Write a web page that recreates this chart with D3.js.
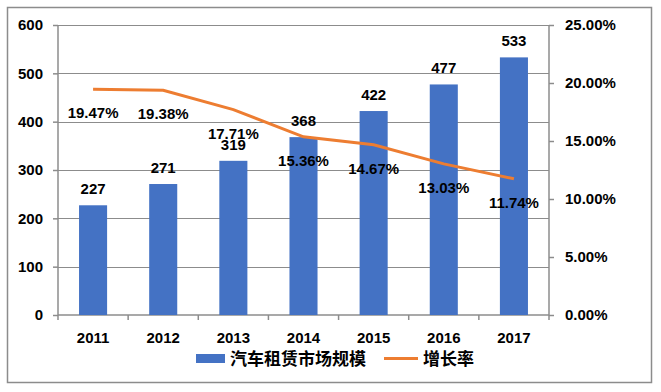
<!DOCTYPE html>
<html>
<head>
<meta charset="utf-8">
<script src="https://cdn.jsdelivr.net/npm/d3@7"></script>
<style>
  body { margin: 0; background: #fff; }
  svg text { font-family: "Liberation Sans", "Noto Sans CJK SC", sans-serif; font-weight: bold; fill: #000; }
</style>
</head>
<body>
<div id="chart"></div>
<script>
// chart data
var years = ["2011", "2012", "2013", "2014", "2015", "2016", "2017"];
var marketSize = [227, 271, 319, 368, 422, 477, 533];
var growthRate = [19.47, 19.38, 17.71, 15.36, 14.67, 13.03, 11.74];
var leftTicks = [0, 100, 200, 300, 400, 500, 600];
var rightTicks = [0, 5, 10, 15, 20, 25];
var seriesNames = ["汽车租赁市场规模", "增长率"];

var W = 661, H = 392;
var margin = { top: 25, right: 112, bottom: 77, left: 58 };
var width = W - margin.left - margin.right,
    height = H - margin.top - margin.bottom;

var svg = d3.select("#chart").append("svg")
    .attr("width", W)
    .attr("height", H);

// outer frame
svg.append("rect")
    .attr("x", 7.5).attr("y", 7.5)
    .attr("width", 644).attr("height", 375)
    .style("fill", "#fff")
    .style("stroke", "#8c8c8c")
    .style("stroke-width", 1.5);

var g = svg.append("g")
    .attr("transform", "translate(" + margin.left + "," + margin.top + ")");

var x = d3.scaleBand().domain(years).range([0, width]).paddingInner(0).paddingOuter(0);
var y = d3.scaleLinear().domain([0, 600]).range([height, 0]);
var y2 = d3.scaleLinear().domain([0, 25]).range([height, 0]);

var axisColor = "#8c8c8c";

// gridlines
g.selectAll(".grid")
    .data(leftTicks.slice(1))
    .enter().append("line")
    .attr("class", "grid")
    .attr("x1", 0).attr("x2", width)
    .attr("y1", function(d) { return Math.round(y(d)) + 0.5; })
    .attr("y2", function(d) { return Math.round(y(d)) + 0.5; })
    .style("stroke", axisColor)
    .style("stroke-width", 1);

// left axis
var leftAxis = g.append("g")
    .call(d3.axisLeft(y).tickValues(leftTicks).tickSize(5).tickPadding(10));

// right axis
var rightAxis = g.append("g")
    .attr("transform", "translate(" + width + ",0)")
    .call(d3.axisRight(y2).tickValues(rightTicks).tickSize(5).tickPadding(11)
        .tickFormat(function(d) { return d.toFixed(2) + "%"; }));

// bottom axis: ticks between categories
var bottomAxis = g.append("g")
    .attr("transform", "translate(0," + height + ")")
    .call(d3.axisBottom(x).tickSize(0).tickPadding(17));

bottomAxis.selectAll(".bound")
    .data(d3.range(years.length + 1))
    .enter().append("line")
    .attr("class", "bound")
    .attr("x1", function(i) { return i * x.bandwidth(); })
    .attr("x2", function(i) { return i * x.bandwidth(); })
    .attr("y1", 0).attr("y2", 5);

[leftAxis, rightAxis, bottomAxis].forEach(function(a) {
    a.selectAll(".domain, line").style("stroke", axisColor).style("stroke-width", 1.5);
    a.selectAll("text").style("font-size", "15px").style("fill", "#000");
});
rightAxis.select(".domain").attr("d", "M0," + height + "V0");
leftAxis.select(".domain").attr("d", "M0," + height + "V0");
bottomAxis.select(".domain").attr("d", "M0,0H" + width);

// bars
var barW = x.bandwidth() * 0.4;
g.selectAll(".bar")
    .data(marketSize)
    .enter().append("rect")
    .attr("class", "bar")
    .attr("x", function(d, i) { return x(years[i]) + (x.bandwidth() - barW) / 2; })
    .attr("y", function(d) { return y(d); })
    .attr("width", barW)
    .attr("height", function(d) { return height - y(d); })
    .style("fill", "#4472C4");

// line
var line = d3.line()
    .x(function(d, i) { return x(years[i]) + x.bandwidth() / 2; })
    .y(function(d) { return y2(d); });

g.append("path")
    .datum(growthRate)
    .attr("d", line)
    .style("fill", "none")
    .style("stroke", "#ED7D31")
    .style("stroke-width", 3);

// bar labels
g.selectAll(".barLabel")
    .data(marketSize)
    .enter().append("text")
    .attr("class", "barLabel")
    .attr("x", function(d, i) { return x(years[i]) + x.bandwidth() / 2; })
    .attr("y", function(d) { return y(d) - 11; })
    .attr("text-anchor", "middle")
    .style("font-size", "15px")
    .text(function(d) { return d; });

// growth labels
g.selectAll(".rateLabel")
    .data(growthRate)
    .enter().append("text")
    .attr("class", "rateLabel")
    .attr("x", function(d, i) { return x(years[i]) + x.bandwidth() / 2; })
    .attr("y", function(d) { return y2(d) + 29; })
    .attr("text-anchor", "middle")
    .style("font-size", "15px")
    .text(function(d) { return d.toFixed(2) + "%"; });

// legend
var legend = svg.append("g").attr("transform", "translate(0,0)");
legend.append("rect")
    .attr("x", 196).attr("y", 354)
    .attr("width", 29).attr("height", 9)
    .style("fill", "#4472C4");
legend.append("text")
    .attr("x", 230).attr("y", 365)
    .style("font-size", "17px")
    .text(seriesNames[0]);
legend.append("line")
    .attr("x1", 384).attr("x2", 418)
    .attr("y1", 358.5).attr("y2", 358.5)
    .style("stroke", "#ED7D31")
    .style("stroke-width", 3);
legend.append("text")
    .attr("x", 423).attr("y", 365)
    .style("font-size", "17px")
    .text(seriesNames[1]);
</script>
</body>
</html>
